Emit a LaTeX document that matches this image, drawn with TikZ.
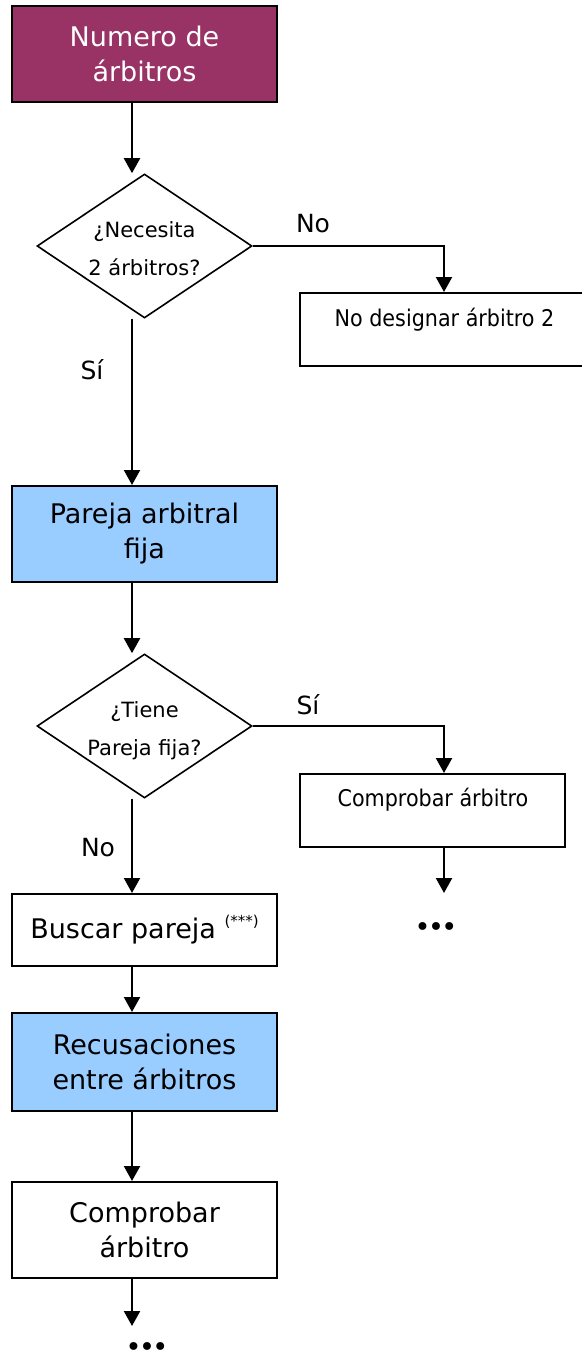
\documentclass[tikz,border=0pt]{standalone}
\usepackage{fontspec}
\setmainfont{DejaVu Sans}
\newfontfamily\condfont{DejaVu Sans Condensed}
\usetikzlibrary{shapes.geometric,arrows.meta}
\definecolor{maroonfill}{HTML}{993366}
\definecolor{bluefill}{HTML}{99CCFF}
\newcommand\bigtxt{\fontsize{27}{35}\selectfont}
\newcommand\midtxt{\condfont\fontsize{23}{30}\selectfont}
\newcommand\diatxt{\fontsize{21}{38}\selectfont}
\newcommand\labtxt{\fontsize{25}{30}\selectfont}
\newcommand\threedots{•\kern-2.5pt•\kern-2.5pt•}
\begin{document}
\begin{tikzpicture}[x=1pt,y=-1pt,
  box/.style={draw=black, line width=2pt, rectangle, minimum width=265pt, inner sep=0pt, align=center, font=\bigtxt},
  sidebox/.style={draw=black, line width=2pt, rectangle, inner sep=0pt},
  dia/.style={draw=black, line width=1.6pt, diamond, minimum width=215pt, minimum height=144pt, inner sep=0pt},
  diatext/.style={align=center, font=\diatxt, inner sep=0pt},
  sidetext/.style={font=\midtxt, inner sep=0pt},
  lab/.style={font=\labtxt, inner sep=0pt},
  dots/.style={font=\fontsize{27}{27}\selectfont, inner sep=0pt},
  arr/.style={line width=2.2pt, -{Triangle[width=16pt,length=15pt]}}
]
\useasboundingbox (0,0) rectangle (581,1364);
\coordinate (ax) at (132,0);
\coordinate (bx) at (444,0);

% left column
\node[box, fill=maroonfill, text=white, minimum height=96pt] (top) at (144.5,54) {Numero de\\árbitros};
\node[dia] (d1) at (144.5,246) {};
\node[diatext] (d1t) at (144.5,249) {¿Necesita\\2 árbitros?};
\node[box, fill=bluefill, minimum height=96pt] (pa) at (144.5,534) {Pareja arbitral\\fija};
\node[dia] (d2) at (144.5,726) {};
\node[diatext] (d2t) at (144.5,731) {¿Tiene\\Pareja fija?};
\node[box, minimum height=72pt] (bp) at (144.5,930) {Buscar pareja \raisebox{12pt}{\fontsize{15}{15}\selectfont(***)}};
\node[box, fill=bluefill, minimum height=98pt] (rec) at (144.5,1062) {Recusaciones\\entre árbitros};
\node[box, minimum height=96pt] (cb) at (144.5,1230) {Comprobar\\árbitro};
\node[dots, anchor=south] (dl) at (147,1357) {\threedots};
\coordinate (e2) at (132,1326);

% right column
\node[sidebox, minimum width=289pt, minimum height=73pt] (nd) at (444.5,329.5) {};
\node[sidetext] (ndt) at (444.5,320) {No designar árbitro 2};
\node[sidebox, minimum width=265pt, minimum height=73pt] (cr) at (432.5,810.5) {};
\node[sidetext] (crt) at (433,800) {Comprobar árbitro};
\node[dots] (dr) at (436,930) {\threedots};
\coordinate (e1) at (444,893);

% labels
\node[lab] (l1) at (313,224) {No};
\node[lab] (l2) at (92,370) {Sí};
\node[lab] (l3) at (308,705) {Sí};
\node[lab] (l4) at (98,848) {No};

% connectors
\draw[arr] (top.south -| ax) -- (d1.north -| ax);
\draw[arr] (d1.south -| ax) -- (pa.north -| ax);
\draw[arr] (d1.east) -| (nd.north -| bx);
\draw[arr] (pa.south -| ax) -- (d2.north -| ax);
\draw[arr] (d2.east) -| (cr.north -| bx);
\draw[arr] (cr.south -| bx) -- (e1);
\draw[arr] (d2.south -| ax) -- (bp.north -| ax);
\draw[arr] (bp.south -| ax) -- (rec.north -| ax);
\draw[arr] (rec.south -| ax) -- (cb.north -| ax);
\draw[arr] (cb.south -| ax) -- (e2);
\end{tikzpicture}
\end{document}
